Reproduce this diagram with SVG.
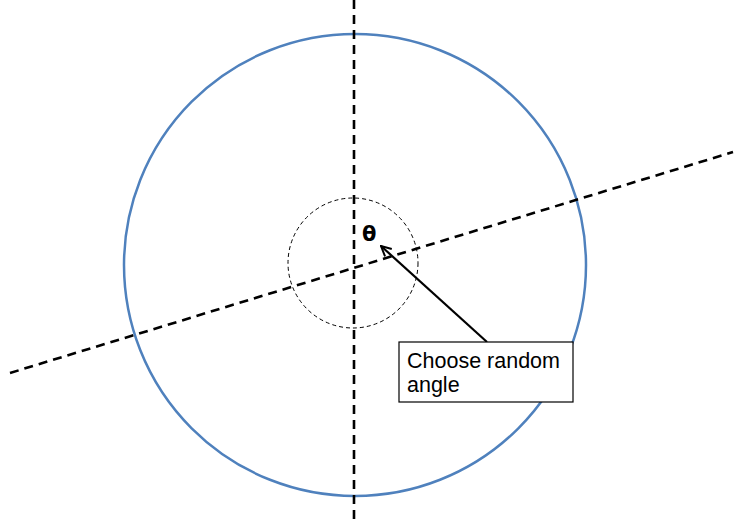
<svg xmlns="http://www.w3.org/2000/svg" width="735" height="521" viewBox="0 0 735 521">
<defs>
<style>
.axis{stroke:#000;stroke-width:2.6;stroke-dasharray:9 6;fill:none}
.lbl{font-family:"Liberation Sans",Arial,sans-serif;fill:#000}
</style>
<marker id="ah" viewBox="0 0 12 12" refX="11" refY="6" markerWidth="12" markerHeight="12" markerUnits="userSpaceOnUse" orient="auto">
<polyline points="1,1 11,6 1,11" fill="none" stroke="#000" stroke-width="2"/>
</marker>
</defs>
<rect width="735" height="521" fill="#fff"/>
<g id="big-circle"><circle cx="355" cy="265" r="231" fill="none" stroke="#4F81BD" stroke-width="2.5"/></g>
<g id="small-circle"><circle cx="353" cy="263" r="65" fill="none" stroke="#000" stroke-width="1" stroke-dasharray="4 3"/></g>
<g id="connectors">
<line class="axis" x1="354" y1="0" x2="354" y2="521"/>
<line class="axis" x1="10" y1="373" x2="733" y2="152"/>
<line x1="487" y1="342" x2="381" y2="246" stroke="#000" stroke-width="2.2" marker-end="url(#ah)"/>
</g>
<g id="theta"><text x="362" y="241" font-family="'DejaVu Sans',sans-serif" font-size="21" font-weight="bold" fill="#000">θ</text></g>
<g id="label-box">
<rect x="399" y="342" width="174" height="60" fill="#fff" stroke="#000" stroke-width="1.2"/>
<text class="lbl" x="407" y="368" font-size="21.5">Choose random</text>
<text class="lbl" x="407" y="392" font-size="21.5">angle</text>
</g>
</svg>
